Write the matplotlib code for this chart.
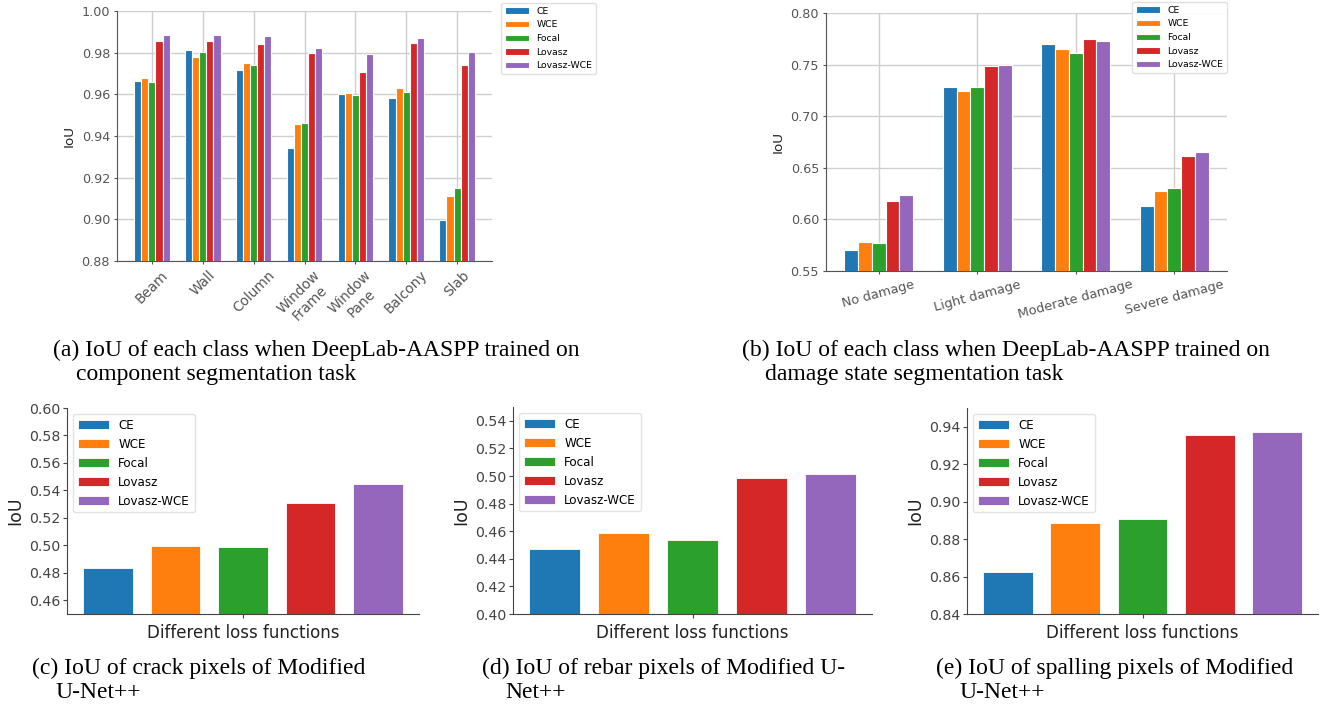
import matplotlib
matplotlib.use('Agg')
import matplotlib.pyplot as plt
import numpy as np

W, H = 1324, 709

losses = ['CE', 'WCE', 'Focal', 'Lovasz', 'Lovasz-WCE']
colors = ['#1f77b4', '#ff7f0e', '#2ca02c', '#d62728', '#9467bd']

# (a) component segmentation, IoU per class
comp_classes = ['Beam', 'Wall', 'Column', 'Window\nFrame', 'Window\nPane', 'Balcony', 'Slab']
comp_ce = [0.9664, 0.9811, 0.9718, 0.9341, 0.9603, 0.9584, 0.8998]
comp_wce = [0.9677, 0.9778, 0.9749, 0.9456, 0.9608, 0.9630, 0.9110]
comp_focal = [0.9659, 0.9803, 0.9741, 0.9462, 0.9597, 0.9610, 0.9150]
comp_lovasz = [0.9858, 0.9856, 0.9842, 0.9798, 0.9709, 0.9848, 0.9742]
comp_lwce = [0.9883, 0.9886, 0.9878, 0.9822, 0.9795, 0.9869, 0.9803]

# (b) damage state segmentation
dmg_classes = ['No damage', 'Light damage', 'Moderate damage', 'Severe damage']
dmg_ce = [0.5707, 0.7283, 0.7696, 0.6127]
dmg_wce = [0.5784, 0.7247, 0.7654, 0.6272]
dmg_focal = [0.5768, 0.7283, 0.7616, 0.6304]
dmg_lovasz = [0.6175, 0.7490, 0.7745, 0.6614]
dmg_lwce = [0.6236, 0.7499, 0.7729, 0.6650]

# (c)-(e) Modified U-Net++
crack_iou = [0.4832, 0.4995, 0.4988, 0.5307, 0.5449]
rebar_iou = [0.4474, 0.4588, 0.4537, 0.4984, 0.5013]
spall_iou = [0.8623, 0.8884, 0.8905, 0.9355, 0.9371]

captions = [
    ('(a) IoU of each class when DeepLab-AASPP trained on', 'component segmentation task', 53, 76, 356),
    ('(b) IoU of each class when DeepLab-AASPP trained on', 'damage state segmentation task', 742, 765, 356),
    ('(c) IoU of crack pixels of Modified', 'U-Net++', 32, 55, 674),
    ('(d) IoU of rebar pixels of Modified U-', 'Net++', 482, 505, 674),
    ('(e) IoU of spalling pixels of Modified', 'U-Net++', 936, 959, 674),
]

fig = plt.figure(figsize=(W / 100, H / 100), dpi=100)


def ax_at(l, t, r, b):
    return fig.add_axes([l / W, 1 - b / H, (r - l) / W, (b - t) / H])


def grouped(ax, cats, series, ylim, yticks, rot, xfs, leg_anchor, leg_loc):
    x = np.arange(len(cats))
    w = 0.14
    for i, (vals, lab, c) in enumerate(zip(series, losses, colors)):
        ax.bar(x + (i - 2) * w, vals, w, color=c, edgecolor='white', linewidth=0.8, label=lab, zorder=3)
    ax.set_ylim(*ylim)
    ax.set_yticks(yticks)
    ax.set_yticklabels(['%.2f' % v for v in yticks], fontsize=9.2, color='#222222')
    ax.set_xticks(x)
    ax.set_xticklabels(cats, rotation=rot, ha='center', fontsize=xfs, color='#222222')
    ax.grid(True, color='#cfcfcf', linewidth=1.0, zorder=0)
    ax.set_axisbelow(True)
    for s in ['top', 'right']:
        ax.spines[s].set_visible(False)
    for s in ['left', 'bottom']:
        ax.spines[s].set_color('#555555')
    ax.tick_params(colors='#555555', length=2.5, pad=2.5)
    ax.set_ylabel('IoU', fontsize=9.7, color='#222222')
    ax.legend(loc=leg_loc, bbox_to_anchor=(leg_anchor[0] / W, 1 - leg_anchor[1] / H),
              bbox_transform=fig.transFigure, borderaxespad=0, fontsize=6.7,
              handlelength=2.6, framealpha=0.9, edgecolor='#dddddd')


ax_a = ax_at(117, 11, 492, 261)
grouped(ax_a, comp_classes, [comp_ce, comp_wce, comp_focal, comp_lovasz, comp_lwce],
        (0.88, 1.0), np.arange(0.88, 1.001, 0.02), 45, 9.8, (501, 3), 'upper left')

ax_b = ax_at(826, 13, 1227, 271)
grouped(ax_b, dmg_classes, [dmg_ce, dmg_wce, dmg_focal, dmg_lovasz, dmg_lwce],
        (0.55, 0.80), np.arange(0.55, 0.801, 0.05), 15, 9.3, (1227, 2), 'upper right')


def single(ax, vals, ylim, yticks):
    x = np.arange(len(vals))
    for i in range(len(vals)):
        ax.bar(x[i], vals[i], 0.74, color=colors[i], edgecolor='white', linewidth=0.6, label=losses[i])
    ax.set_ylim(*ylim)
    ax.set_yticks(yticks)
    ax.set_yticklabels(['%.2f' % v for v in yticks], fontsize=10.2, color='#222222')
    ax.set_xticks([2])
    ax.set_xticklabels([''])
    ax.set_xlabel('Different loss functions', fontsize=12, color='#222222', labelpad=2)
    ax.set_ylabel('IoU', fontsize=12.5, color='#222222', labelpad=3)
    for s in ['top', 'right']:
        ax.spines[s].set_visible(False)
    for s in ['left', 'bottom']:
        ax.spines[s].set_color('#444444')
    ax.tick_params(colors='#444444', length=3, pad=2)
    ax.legend(loc='upper left', fontsize=8.6, handlelength=2.6, edgecolor='#dddddd')


ax_c = ax_at(67, 408, 419, 614)
single(ax_c, crack_iou, (0.45, 0.60), np.arange(0.46, 0.601, 0.02))
ax_d = ax_at(513, 407, 872, 614)
single(ax_d, rebar_iou, (0.40, 0.55), np.arange(0.40, 0.541, 0.02))
ax_e = ax_at(967, 408, 1318, 614)
single(ax_e, spall_iou, (0.84, 0.95), np.arange(0.84, 0.941, 0.02))

for line1, line2, x1, x2, yb in captions:
    fig.text(x1 / W, 1 - yb / H, line1, fontsize=17, family='Liberation Serif', va='baseline')
    fig.text(x2 / W, 1 - (yb + 24) / H, line2, fontsize=17, family='Liberation Serif', va='baseline')

fig.savefig('out.png', dpi=100)
